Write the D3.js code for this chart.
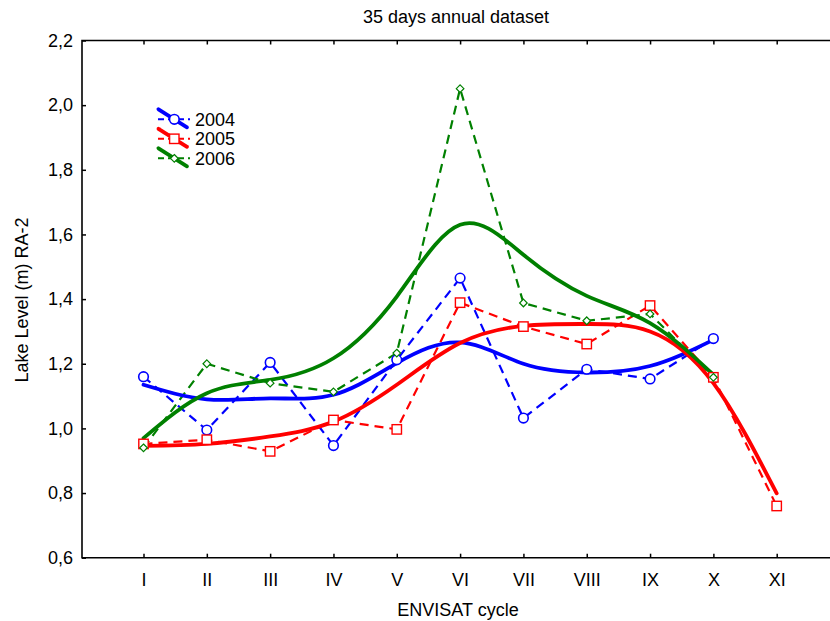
<!DOCTYPE html>
<html lang="en">
<head>
  <meta charset="UTF-8">
  <title>35 days annual dataset</title>
  <script src="https://d3js.org/d3.v7.min.js"></script>
  <style>
    body { margin: 0; background: #fff; }
    text { font-family: "Liberation Sans", Arial, sans-serif; fill: #000; }
    .axis path { display: none; }
    .axis line { stroke: #000; stroke-width: 1.5; }
    .axis text { font-size: 18px; }
  </style>
</head>
<body>
  <svg width="830" height="621"></svg>

  <script>
    // ENVISAT cycles
    const cycles = ["I", "II", "III", "IV", "V", "VI", "VII", "VIII", "IX", "X", "XI"];
    const yTicks = [0.6, 0.8, 1.0, 1.2, 1.4, 1.6, 1.8, 2.0, 2.2];

    // measured lake levels (dashed lines with markers)
    const level2004 = [1.160, 0.995, 1.204, 0.947, 1.212, 1.465, 1.032, 1.183, 1.153, 1.278];
    const level2005 = [0.952, 0.965, 0.929, 1.026, 0.997, 1.389, 1.315, 1.261, 1.380, 1.158, 0.760];
    const level2006 = [0.940, 1.200, 1.140, 1.113, 1.233, 2.051, 1.388, 1.333, 1.354, 1.158];

    // smoothed fits (thick lines), read at each cycle
    const fit2004 = [1.135, 1.090, 1.093, 1.104, 1.202, 1.266, 1.200, 1.173, 1.193, 1.274];
    const fit2005 = [0.946, 0.952, 0.975, 1.021, 1.135, 1.264, 1.317, 1.323, 1.300, 1.140, 0.799];
    const fit2006 = [0.970, 1.109, 1.150, 1.217, 1.408, 1.630, 1.537, 1.410, 1.326, 1.166];

    const years = ["2004", "2005", "2006"];

    const series = [
      { name: years[0], level: level2004, fit: fit2004, color: "#0000ff", marker: "circle" },
      { name: years[1], level: level2005, fit: fit2005, color: "#ff0000", marker: "square" },
      { name: years[2], level: level2006, fit: fit2006, color: "#008000", marker: "diamond" }
    ];

    // frame
    const frame = { left: 82, top: 40.5, right: 830, bottom: 557.7 };

    const svg = d3.select("svg");

    const x = d3.scalePoint()
      .domain(cycles)
      .range([143.5, 776.7]);

    const y = d3.scaleLinear()
      .domain([0.6, 2.2])
      .range([frame.bottom, frame.top]);

    const fmt = d => d3.format(".1f")(d).replace(".", ",");

    // axes
    svg.append("g")
      .attr("class", "axis")
      .attr("transform", `translate(${frame.left},0)`)
      .call(d3.axisLeft(y).tickValues(yTicks).tickFormat(fmt).tickSize(-4).tickPadding(9));

    svg.append("g")
      .attr("class", "axis")
      .attr("transform", `translate(0,${frame.bottom})`)
      .call(d3.axisBottom(x).tickSize(-4).tickPadding(16));

    svg.append("g")
      .attr("class", "axis")
      .attr("transform", `translate(0,${frame.top})`)
      .call(d3.axisTop(x).tickSize(-4).tickFormat(""));

    // box
    svg.append("path")
      .attr("d", `M${frame.right},${frame.top}H${frame.left}V${frame.bottom}H${frame.right}`)
      .attr("fill", "none")
      .attr("stroke", "#000")
      .attr("stroke-width", 1.6);

    const lineOf = (curve) => d3.line()
      .x((d, i) => x(cycles[i]))
      .y(d => y(d))
      .curve(curve);

    // dashed measured lines
    series.forEach(s => {
      svg.append("path")
        .datum(s.level)
        .attr("d", lineOf(d3.curveLinear))
        .attr("fill", "none")
        .attr("stroke", s.color)
        .attr("stroke-width", 2.2)
        .attr("stroke-dasharray", "9,6");
    });

    // smoothed fits
    series.forEach(s => {
      svg.append("path")
        .datum(s.fit)
        .attr("d", lineOf(d3.curveNatural))
        .attr("fill", "none")
        .attr("stroke", s.color)
        .attr("stroke-width", 3.8)
        .attr("stroke-linecap", "round");
    });

    function drawMarker(g, type, color, cx, cy) {
      if (type === "circle") {
        g.append("circle").attr("cx", cx).attr("cy", cy).attr("r", 4.8)
          .attr("fill", "#fff").attr("stroke", color).attr("stroke-width", 1.6);
      } else if (type === "square") {
        g.append("rect").attr("x", cx - 4.7).attr("y", cy - 4.7).attr("width", 9.4).attr("height", 9.4)
          .attr("fill", "#fff").attr("stroke", color).attr("stroke-width", 1.4);
      } else {
        g.append("path").attr("d", `M${cx},${cy - 3.8}L${cx + 3.8},${cy}L${cx},${cy + 3.8}L${cx - 3.8},${cy}Z`)
          .attr("fill", "#fff").attr("stroke", color).attr("stroke-width", 1.2);
      }
    }

    // markers
    series.forEach(s => {
      const g = svg.append("g");
      s.level.forEach((v, i) => drawMarker(g, s.marker, s.color, x(cycles[i]), y(v)));
    });

    // legend
    series.forEach((s, i) => {
      const cy = 119.3 + i * 19.5;
      const g = svg.append("g");
      g.append("line").attr("x1", 158).attr("x2", 190).attr("y1", cy).attr("y2", cy)
        .attr("stroke", s.color).attr("stroke-width", 2).attr("stroke-dasharray", "6,4");
      g.append("line").attr("x1", 158.5).attr("x2", 187).attr("y1", cy - 10).attr("y2", cy + 8)
        .attr("stroke", s.color).attr("stroke-width", 3.8).attr("stroke-linecap", "round");
      drawMarker(g, s.marker, s.color, 174.3, cy);
      g.append("text").attr("x", 195).attr("y", cy + 6.5)
        .style("font-size", "18px").text(s.name);
    });

    // titles
    svg.append("text")
      .attr("x", 456).attr("y", 23)
      .style("text-anchor", "middle").style("font-size", "18px")
      .text("35 days annual dataset");

    svg.append("text")
      .attr("x", 458).attr("y", 616)
      .style("text-anchor", "middle").style("font-size", "18px")
      .text("ENVISAT cycle");

    svg.append("text")
      .attr("transform", "translate(28,300) rotate(-90)")
      .style("text-anchor", "middle").style("font-size", "18px")
      .text("Lake Level (m) RA-2");
  </script>
</body>
</html>
